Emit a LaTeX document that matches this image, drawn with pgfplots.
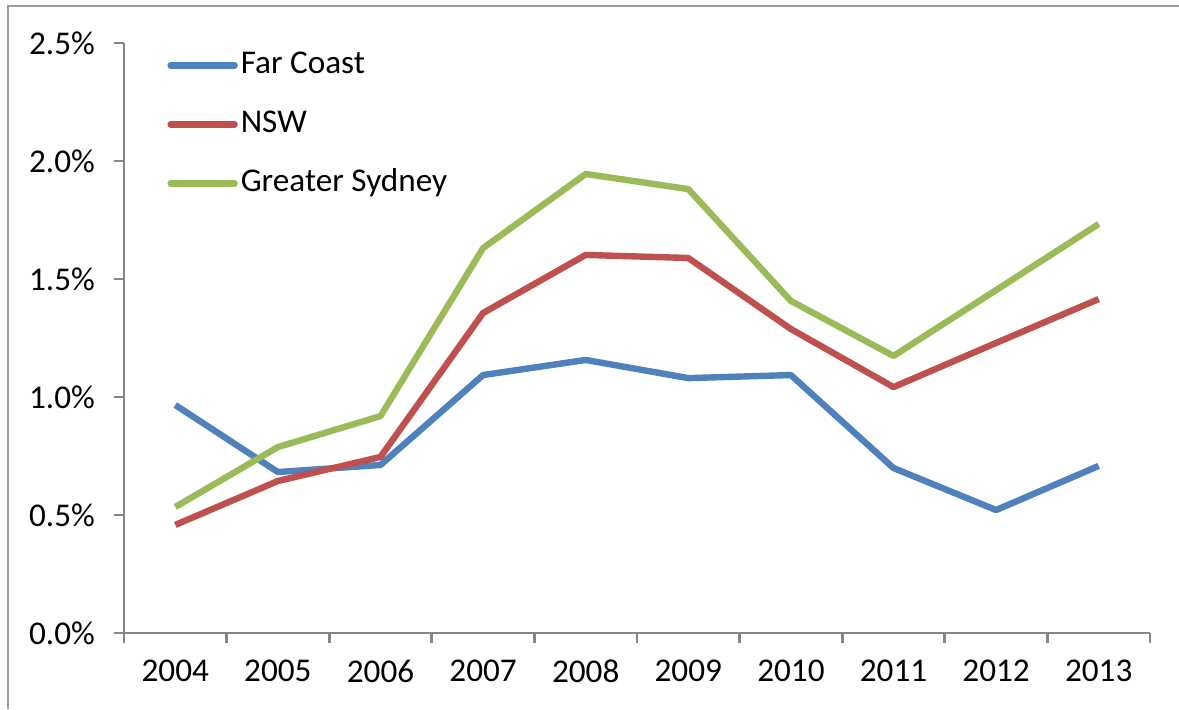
\documentclass[border=0pt]{standalone}
\usepackage{pgfplots}
\pgfplotsset{compat=1.18}
\usepackage{pgfplotstable}
\usepackage{fontspec}
\setmainfont{Carlito}
\definecolor{fc}{HTML}{4F81BD}
\definecolor{nsw}{HTML}{C0504D}
\definecolor{gs}{HTML}{9BBB59}
\definecolor{axgray}{HTML}{868686}
\pgfplotstableread{
x fc nsw gs
0 0.966 0.458 0.534
1 0.682 0.644 0.788
2 0.712 0.746 0.919
3 1.093 1.356 1.631
4 1.157 1.602 1.945
5 1.080 1.589 1.881
6 1.093 1.288 1.407
7 0.699 1.042 1.174
8 0.521 1.229 1.453
9 0.708 1.415 1.733
}\datatable
\begin{document}
\begin{tikzpicture}
\path[use as bounding box] (0,0) rectangle (589.5pt,354.5pt);
\draw[axgray!80, line width=1pt] (4pt,0) -- (4pt,351.5pt) -- (589.5pt,351.5pt);
\begin{axis}[
  at={(62pt,38pt)}, anchor=south west,
  scale only axis, width=513pt, height=295pt,
  xmin=-0.5, xmax=9.5, ymin=0, ymax=2.5,
  axis x line=bottom, axis y line=left,
  axis line style={-, axgray, line width=1.4pt},
  tick align=outside, major tick length=5pt,
  tick style={axgray, line width=1.4pt},
  xtick={-0.5,0.5,...,9.5}, xticklabels={},
  extra x ticks={0,1,...,9},
  extra x tick labels={2004,2005,2006,2007,2008,2009,2010,2011,2012,2013},
  extra x tick style={major tick length=0pt},
  ytick={0,0.5,1,1.5,2,2.5},
  yticklabels={0.0\%,0.5\%,1.0\%,1.5\%,2.0\%,2.5\%},
  ticklabel style={font=\fontsize{16.6}{19}\selectfont},
  xticklabel style={yshift=-10pt},
  yticklabel style={xshift=-6pt},
  legend image code/.code={\draw[#1,line width=3.2pt,line cap=round] (0pt,0pt) -- (32pt,0pt);},
  legend cell align=left,
  legend style={at={(axis description cs:0,1)}, anchor=north west,
    xshift=18.5pt, yshift=-1pt, draw=none, fill=none,
    font=\fontsize{16.6}{19}\selectfont, row sep=13.5pt,
    nodes={inner sep=0pt, text height=12pt, text depth=4pt}},
]
\addplot[fc, line width=3.2pt, line join=round] table[x=x,y=fc]{\datatable};
\addlegendentry{\hspace{1.5pt}Far Coast}
\addplot[nsw, line width=3.2pt, line join=round] table[x=x,y=nsw]{\datatable};
\addlegendentry{\hspace{1.5pt}NSW}
\addplot[gs, line width=3.2pt, line join=round] table[x=x,y=gs]{\datatable};
\addlegendentry{\hspace{1.5pt}Greater Sydney}
\end{axis}
\end{tikzpicture}
\end{document}
